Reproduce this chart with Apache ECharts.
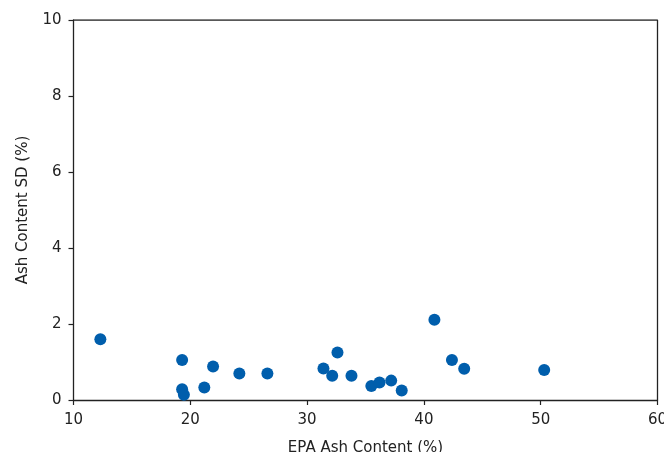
<!DOCTYPE html>
<html>
<head>
<meta charset="utf-8">
<script src="https://cdn.jsdelivr.net/npm/echarts@6/dist/echarts.min.js"></script>
<style>
  html, body { margin: 0; padding: 0; background: #fff; }
  #chart { width: 664px; height: 452px; }
</style>
</head>
<body>
<div id="chart"></div>
<script>
// EPA ash content (%) vs. standard deviation of ash content (%)
const epaAsh = [12.3, 19.3, 19.3, 19.45, 21.2, 21.95, 24.2, 26.6, 31.4, 32.15, 32.6, 33.8, 35.5, 36.2, 37.2, 38.1, 40.9, 42.4, 43.45, 50.3];
const ashSD  = [1.6, 1.05, 0.28, 0.14, 0.33, 0.88, 0.70, 0.70, 0.83, 0.64, 1.25, 0.64, 0.37, 0.46, 0.51, 0.25, 2.11, 1.05, 0.82, 0.79];

const xTicks = [10, 20, 30, 40, 50, 60];
const yTicks = [0, 2, 4, 6, 8, 10];

const font = 'DejaVu Sans';
const axisColor = '#222';

const chart = echarts.init(document.getElementById('chart'), null, { renderer: 'canvas' });
chart.setOption({
  animation: false,
  grid: { left: 73.5, right: 6.5, top: 20, bottom: 52, containLabel: false, outerBoundsMode: 'none' },
  xAxis: {
    type: 'value',
    min: xTicks[0], max: xTicks[xTicks.length - 1], interval: 10,
    name: 'EPA Ash Content (%)',
    nameLocation: 'middle', nameGap: 41,
    nameTextStyle: { fontFamily: font, fontSize: 15, color: '#222' },
    axisLine: { show: true, lineStyle: { color: axisColor, width: 1.3 } },
    axisTick: { show: true, length: 5, inside: false, lineStyle: { color: axisColor, width: 1.2 } },
    axisLabel: { margin: 13, fontFamily: font, fontSize: 15, color: '#222' },
    splitLine: { show: false }
  },
  yAxis: {
    type: 'value',
    min: yTicks[0], max: yTicks[yTicks.length - 1], interval: 2,
    name: 'Ash Content SD (%)',
    nameLocation: 'middle', nameGap: 43, nameRotate: 90,
    nameTextStyle: { fontFamily: font, fontSize: 15, color: '#222' },
    axisLine: { show: true, lineStyle: { color: axisColor, width: 1.3 } },
    axisTick: { show: true, length: 5, inside: false, lineStyle: { color: axisColor, width: 1.2 } },
    axisLabel: { margin: 12, fontFamily: font, fontSize: 15, color: '#222' },
    splitLine: { show: false }
  },
  series: [{
    type: 'scatter',
    data: epaAsh.map((x, i) => [x, ashSD[i]]),
    symbol: 'circle',
    symbolSize: 12,
    itemStyle: { color: '#005eac', opacity: 1 },
    clip: false
  }, {
    // top and right frame edges, drawn along the axis extents
    type: 'line',
    data: [[xTicks[0], yTicks[yTicks.length - 1]], [xTicks[xTicks.length - 1], yTicks[yTicks.length - 1]], [xTicks[xTicks.length - 1], yTicks[0]]],
    symbol: 'none',
    lineStyle: { color: axisColor, width: 1.3 },
    silent: true,
    z: 1
  }]
});
</script>
</body>
</html>
